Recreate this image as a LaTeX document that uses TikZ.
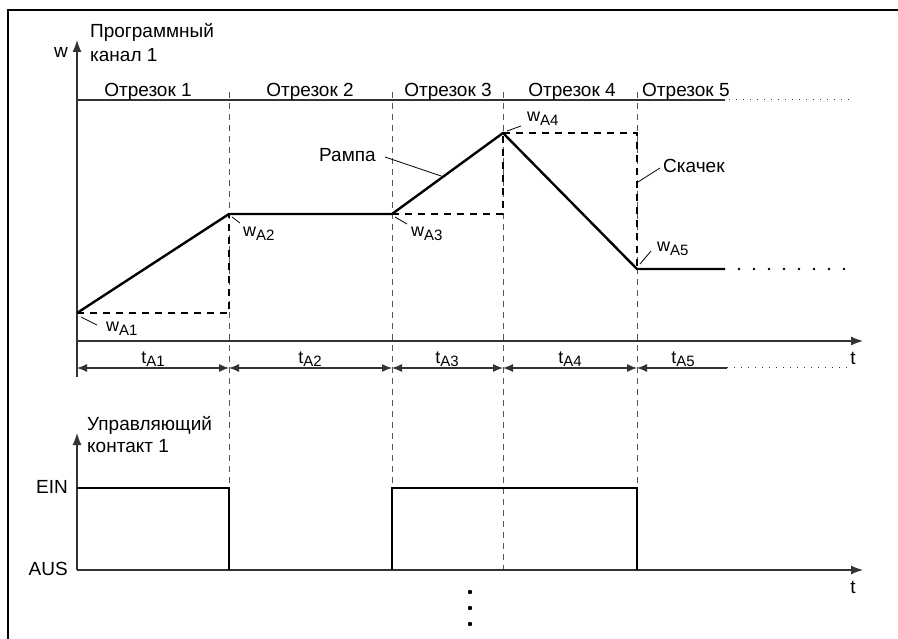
\documentclass[tikz,border=0pt]{standalone}
\usepackage{fontspec}
\setmainfont{Liberation Sans}
\usetikzlibrary{arrows.meta}
\definecolor{axisgray}{HTML}{333333}
\definecolor{guidegray}{HTML}{555555}
\newcommand\subtxt[2]{{\fontsize{18}{18}\selectfont #1}\raisebox{-3.5pt}{\fontsize{15}{15}\selectfont #2}}
\begin{document}
\begin{tikzpicture}[x=1pt,y=-1pt,
  axis/.style={draw=axisgray, line width=1.2pt},
  curve/.style={line width=2.4pt, line join=miter},
  stepdash/.style={line width=2.2pt, dash pattern=on 7pt off 6pt},
  guide/.style={draw=guidegray, line width=0.9pt, dash pattern=on 6pt off 5pt},
  finedots/.style={draw=axisgray, line width=1pt, dash pattern=on 1pt off 6pt},
  bigdots/.style={line width=2.6pt, dash pattern=on 0pt off 15pt, line cap=round},
  lbl/.style={font=\fontsize{19}{24}\selectfont, inner sep=0pt},
  sublbl/.style={inner sep=0pt, anchor=base west},
  leader/.style={line width=0.8pt},
  signal/.style={line width=1.7pt, draw=black},
  bigtip/.style={-{Latex[length=12pt,width=9pt]}},
  dim/.style={axis, {Latex[length=10pt,width=8pt]}-{Latex[length=10pt,width=8pt]}}
]
\useasboundingbox (0,0) rectangle (898,639);
% frame
\draw[line width=2.6pt] (8,639) -- (8,10) -- (898,10);

% guides
\foreach \x/\n in {229/g1,392/g2,503/g3,637/g4}
  \draw[guide] (\x,92) coordinate (\n top) -- (\x,570) coordinate (\n bot);

% segment line
\coordinate (s0) at (77,100);
\coordinate (s1) at (725,100);
\coordinate (s2) at (853,100);
\draw[axis] (s0) -- (s1);
\draw[finedots] (s1) ++(4,0) -- (s2);
\node[lbl, anchor=base] (seg1) at (148,97) {Отрезок 1};
\node[lbl, anchor=base] (seg2) at (310,97) {Отрезок 2};
\node[lbl, anchor=base] (seg3) at (448,97) {Отрезок 3};
\node[lbl, anchor=base] (seg4) at (572,97) {Отрезок 4};
\node[lbl, anchor=base west] (seg5) at (642,97) {Отрезок 5};

% upper axes
\coordinate (yb) at (77,377);
\coordinate (yt) at (77,40);
\draw[axis, bigtip] (yb) -- (yt);
\coordinate (t0) at (77,341);
\coordinate (t1) at (863,341);
\draw[axis, bigtip] (t0) -- (t1);
\node[lbl, anchor=base] (wax) at (61,58) {w};
\node[lbl, anchor=base west] (ch1) at (90,38) {Программный};
\node[lbl, anchor=base west] (ch2) at (90,62) {канал 1};
\node[lbl, anchor=base] (tlab1) at (853,365) {t};

% curve
\coordinate (A1) at (77,313);
\coordinate (A2) at (229,214);
\coordinate (A3) at (392,214);
\coordinate (A4) at (503,133);
\coordinate (A5) at (637,269);
\coordinate (A6) at (725,269);
\coordinate (A7) at (739,269);
\coordinate (A8) at (846,269);
\coordinate (B1) at (229,313);
\coordinate (B3) at (503,214);
\coordinate (B4) at (637,133);
\draw[stepdash] (A1) -- (B1) -- (A2);
\draw[stepdash] (A3) -- (B3) -- (A4);
\draw[stepdash] (A4) -- (B4) -- (A5);
\draw[curve] (A1) -- (A2) -- (A3) -- (A4) -- (A5) -- (A6);
\draw[bigdots] (A7) -- (A8);

% value labels
\node[sublbl] (w1) at (106,332) {\subtxt{w}{A1}};
\draw[leader] (81,317) -- (97,325);
\node[sublbl] (w2) at (243,237) {\subtxt{w}{A2}};
\draw[leader] (232,217) -- (240,223);
\node[sublbl] (w3) at (411,237) {\subtxt{w}{A3}};
\draw[leader] (395,217) -- (407,224);
\node[sublbl] (w4) at (527,122) {\subtxt{w}{A4}};
\draw[leader] (507,131) -- (521,126);
\node[sublbl] (w5) at (657,252) {\subtxt{w}{A5}};
\draw[leader] (640,264) -- (651,251);
\node[lbl, anchor=base west] (ramp) at (319,162) {Рампа};
\draw[leader] (385,157) -- (444,177);
\node[lbl, anchor=base west] (jump) at (663,173) {Скачек};
\draw[leader] (638,182) -- (660,168);

% durations
\coordinate (d0) at (77,368);
\coordinate (d1) at (229,368);
\coordinate (d2) at (392,368);
\coordinate (d3) at (503,368);
\coordinate (d4) at (637,368);
\coordinate (d5) at (727,368);
\coordinate (d6) at (850,368);
\draw[dim] (d0) -- (d1);
\draw[dim] (d1) -- (d2);
\draw[dim] (d2) -- (d3);
\draw[dim] (d3) -- (d4);
\draw[axis, {Latex[length=10pt,width=8pt]}-] (d4) -- (d5);
\draw[finedots] (d5) -- (d6);
\node[sublbl, anchor=base] (tA1) at (153,363) {\subtxt{t}{A1}};
\node[sublbl, anchor=base] (tA2) at (310,363) {\subtxt{t}{A2}};
\node[sublbl, anchor=base] (tA3) at (447,363) {\subtxt{t}{A3}};
\node[sublbl, anchor=base] (tA4) at (570,363) {\subtxt{t}{A4}};
\node[sublbl, anchor=base] (tA5) at (683,363) {\subtxt{t}{A5}};

% lower chart
\coordinate (lb) at (77,570);
\coordinate (lt) at (77,433);
\coordinate (lr) at (863,570);
\draw[axis, bigtip] (lb) -- (lt);
\draw[axis, bigtip] (lb) -- (lr);
\node[lbl, anchor=base west] (ctl1) at (87,430) {Управляющий};
\node[lbl, anchor=base west] (ctl2) at (87,453) {контакт 1};
\node[lbl, anchor=base east] (ein) at (68,493) {EIN};
\node[lbl, anchor=base east] (aus) at (68,575) {AUS};
\node[lbl, anchor=base] (tlab2) at (853,593) {t};
\coordinate (e0) at (77,488);
\coordinate (e1) at (229,488);
\coordinate (e2) at (229,570);
\coordinate (e3) at (392,570);
\coordinate (e4) at (392,488);
\coordinate (e5) at (637,488);
\coordinate (e6) at (637,570);
\draw[signal] (e0) -- (e1) -- (e2);
\draw[signal] (e3) -- (e4) -- (e5) -- (e6);

% continuation dots
\foreach \y/\n in {592/c1,608/c2,624/c3}
  \fill (470,\y) circle (2.2pt) coordinate (\n);
\end{tikzpicture}
\end{document}
